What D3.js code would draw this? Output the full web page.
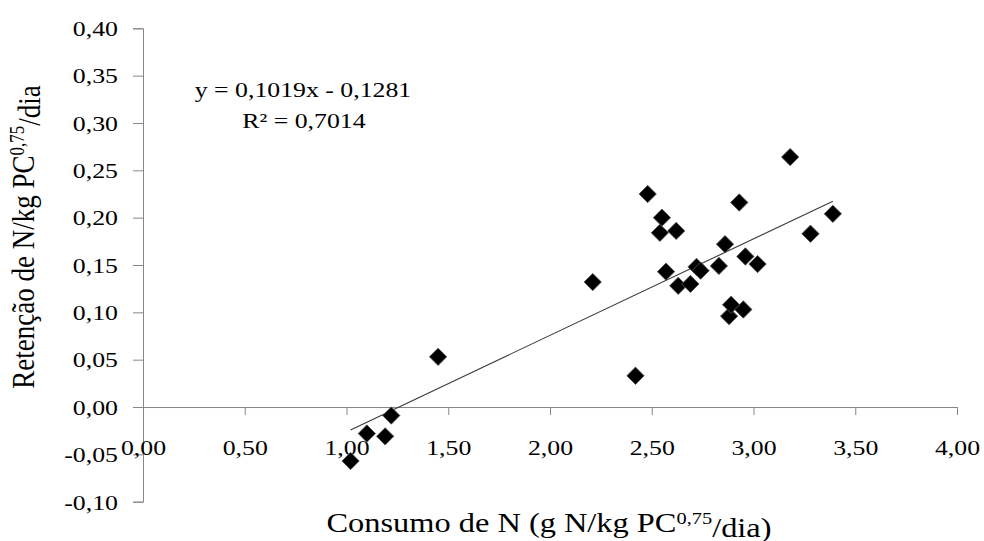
<!DOCTYPE html>
<html>
<head>
<meta charset="utf-8">
<script src="https://cdn.jsdelivr.net/npm/d3@7"></script>
<style>
  html, body { margin: 0; padding: 0; background: #fff; }
  svg { display: block; }
  text { font-family: "Liberation Serif", "Times New Roman", serif; fill: #000; }
</style>
</head>
<body>
<svg id="chart" width="984" height="541"></svg>
<script>
// Consumo de N (g N/kg PC^0,75/dia) and Retenção de N (g N/kg PC^0,75/dia)
const consumo = [1.02, 1.10, 1.19, 1.22, 1.45, 2.21, 2.42, 2.48, 2.54, 2.55, 2.57, 2.62, 2.63, 2.69,
                 2.72, 2.74, 2.83, 2.86, 2.88, 2.89, 2.93, 2.95, 2.96, 3.02, 3.18, 3.28, 3.39];
const retencao = [-0.057, -0.028, -0.031, -0.009, 0.053, 0.132, 0.033, 0.225, 0.184, 0.200, 0.143, 0.186, 0.128, 0.130,
                  0.148, 0.144, 0.149, 0.172, 0.096, 0.108, 0.216, 0.103, 0.159, 0.151, 0.264, 0.183, 0.204];

const xTicks = [0, 0.5, 1, 1.5, 2, 2.5, 3, 3.5, 4];
const yTicks = [-0.10, -0.05, 0, 0.05, 0.10, 0.15, 0.20, 0.25, 0.30, 0.35, 0.40];

// Regression reported on the chart
const slope = 0.1019;
const intercept = -0.1281;
const r2 = 0.7014;

const svg = d3.select("#chart");
const SX = 1.2; // horizontal text stretch
const serif = "'Liberation Serif', 'Times New Roman', serif";

const x = d3.scaleLinear().domain([0, 4]).range([143, 957]);
const y = d3.scaleLinear().domain([-0.10, 0.40]).range([501.7, 28.3]);

const fmt = v => d3.format(".2f")(v).replace("−", "-").replace(".", ",");
const fmt4 = v => d3.format(".4f")(Math.abs(v)).replace(".", ",");
const axisColor = "#878787";

// Y axis
const gy = svg.append("g")
  .attr("transform", `translate(${x(0)},0)`)
  .call(d3.axisLeft(y).tickValues(yTicks).tickSize(10).tickSizeOuter(10).tickPadding(0).tickFormat(fmt))
  .attr("font-family", serif);
gy.select(".domain").attr("stroke", axisColor);
gy.selectAll(".tick line").attr("stroke", axisColor);
gy.selectAll(".tick text")
  .attr("x", -25 / SX)
  .attr("dy", "0.34em")
  .attr("transform", `scale(${SX},1)`)
  .style("font-size", "21.5px");

// X axis along y = 0
const gx = svg.append("g")
  .attr("transform", `translate(0,${y(0)})`)
  .call(d3.axisBottom(x).tickValues(xTicks).tickSize(8).tickSizeOuter(8).tickFormat(fmt))
  .attr("font-family", serif);
gx.select(".domain").attr("stroke", axisColor);
gx.selectAll(".tick line").attr("stroke", axisColor);
gx.selectAll(".tick text")
  .attr("y", 41)
  .attr("dy", "0.34em")
  .attr("transform", `scale(${SX},1)`)
  .style("font-size", "21.5px");
svg.selectAll(".tick text").style("font-family", serif).attr("fill", "#000");

// Trend line over the observed range
const xr = d3.extent(consumo);
const line = d3.line().x(d => x(d)).y(d => y(slope * d + intercept));
svg.append("path")
  .attr("d", line(xr))
  .attr("fill", "none")
  .attr("stroke", "#3a3a3a")
  .attr("stroke-width", 1.1);

// Data points as diamonds
const diamond = d3.symbol().type(d3.symbolSquare).size(150);
svg.append("g").selectAll("path")
  .data(consumo.map((c, i) => [c, retencao[i]]))
  .join("path")
  .attr("d", diamond)
  .attr("transform", d => `translate(${x(d[0])},${y(d[1])}) rotate(45)`)
  .attr("fill", "#000")
  .attr("stroke", "#555")
  .attr("stroke-width", 0.8);

// Stretched text helper
function label(px, py, size, anchor, rot) {
  return svg.append("text")
    .attr("text-anchor", anchor)
    .style("font-family", serif)
    .style("font-size", size + "px")
    .attr("transform", `translate(${px},${py})` + (rot ? ` rotate(${rot})` : "") + ` scale(${rot ? 1 : SX},${rot ? SX : 1})`);
}

// Regression equation
label(303, 97, 21.5, "middle")
  .text(`y = ${fmt4(slope)}x ${intercept < 0 ? "-" : "+"} ${fmt4(intercept)}`);
label(304, 128, 21.5, "middle")
  .text(`R² = ${fmt4(r2)}`);

// Axis titles
const xt = label(549, 532, 27, "middle");
xt.append("tspan").text("Consumo de N (g N/kg PC");
xt.append("tspan").attr("dy", "-0.5em").style("font-size", "17px").text("0,75");
xt.append("tspan").attr("dy", "0.5em").text("/dia)");

const yt = label(34, 237, 27, "middle", -90);
yt.append("tspan").text("Retenção de N/kg PC");
yt.append("tspan").attr("dy", "-0.5em").style("font-size", "17px").text("0,75");
yt.append("tspan").attr("dy", "0.5em").text("/dia");
</script>
</body>
</html>
